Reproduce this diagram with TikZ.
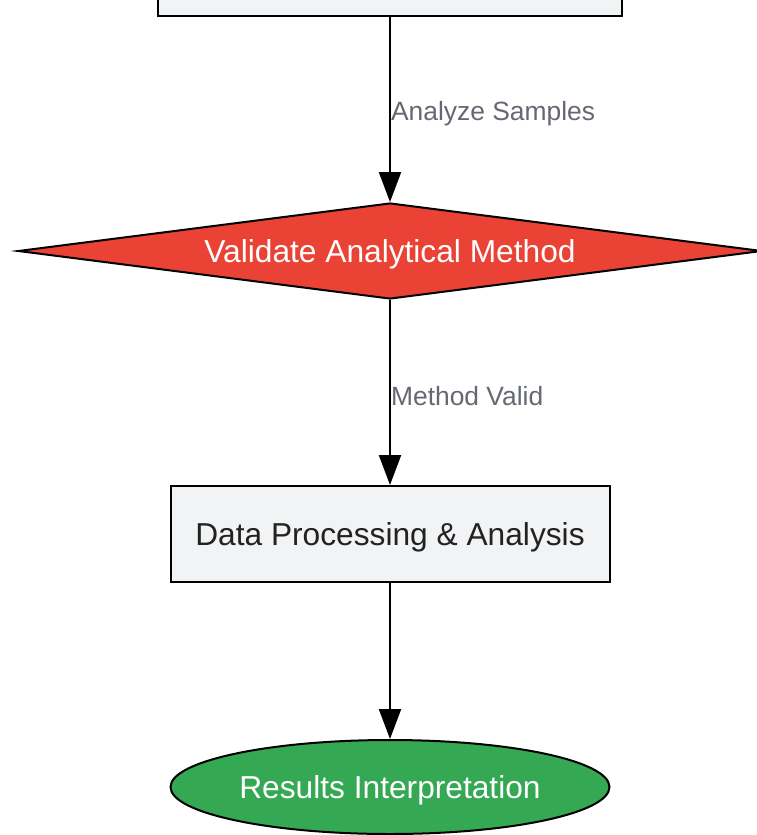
\documentclass[tikz,border=0pt]{standalone}
\usepackage{fontspec}
\setmainfont{Liberation Sans}
\definecolor{BoxColor}{RGB}{242,243,245}
\definecolor{DecisionColor}{RGB}{234,67,53}
\definecolor{TerminalColor}{RGB}{52,168,83}
\definecolor{LabelColor}{RGB}{100,104,112}
\definecolor{TextColor}{RGB}{34,34,34}
\usetikzlibrary{positioning, arrows.meta, shapes.geometric}
\tikzstyle{arrow} = [line width=2.2pt, black, -{Triangle[length=30pt,width=22pt]}]
\tikzstyle{process} = [rectangle, minimum width=439pt, minimum height=96pt, text depth=0pt, draw=black, line width=2pt, fill=BoxColor, text=TextColor, font=\fontsize{31.7}{38}\selectfont]
\tikzstyle{decision} = [diamond, aspect=7.8, inner sep=0pt, minimum width=744pt, minimum height=96pt, text depth=0pt, draw=black, line width=2pt, fill=DecisionColor, text=white, font=\fontsize{31.7}{38}\selectfont]
\tikzstyle{terminal} = [ellipse, minimum width=439pt, minimum height=94pt, text depth=0pt, draw=black, line width=2pt, fill=TerminalColor, text=white, font=\fontsize{31.7}{38}\selectfont]
\tikzstyle{edgelabel} = [anchor=west, inner sep=0pt, yshift=-4pt, text=LabelColor, font=\fontsize{26.4}{32}\selectfont]

\begin{document}
\begin{tikzpicture}[x=1pt, y=-1pt]
    \useasboundingbox (0,0) rectangle (756,835);

    % Steps of the flow
    \node[process, minimum width=464pt] (prepare) at (390,-32) {};
    \node[decision] (validate) at (390,251) {Validate Analytical Method};
    \node[process] (processing) at (390,534) {Data Processing \& Analysis};
    \node[terminal] (results) at (390,787) {Results Interpretation};

    % Connectors
    \draw[arrow] (prepare) -- node[edgelabel] {Analyze Samples} (validate);
    \draw[arrow] (validate) -- node[edgelabel] {Method Valid} (processing);
    \draw[arrow] (processing) -- (results);
\end{tikzpicture}
\end{document}
